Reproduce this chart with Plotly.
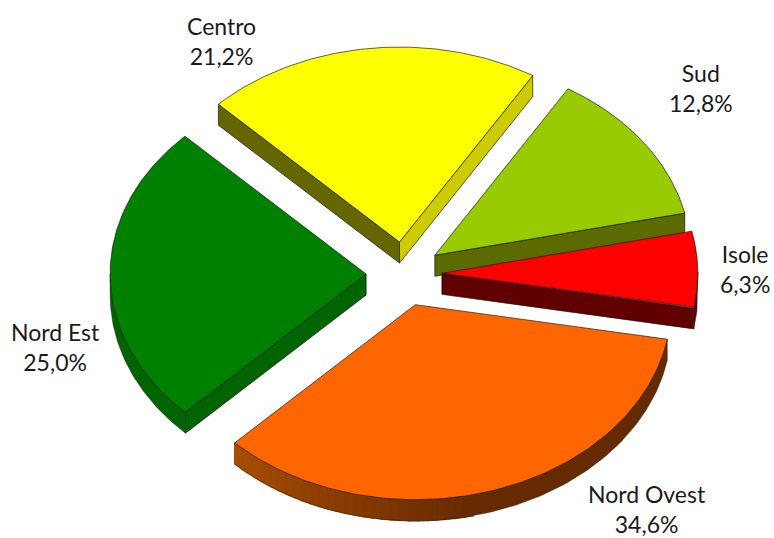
import math
import plotly.graph_objects as go

# Data
categories = ["Isole", "Sud", "Centro", "Nord Est", "Nord Ovest"]
values = [6.3, 12.8, 21.2, 25.0, 34.6]
value_labels = ["6,3%", "12,8%", "21,2%", "25,0%", "34,6%"]

# Styling
top_colors = ["#FF0000", "#99CC00", "#FFFF00", "#008000", "#FF6600"]
wall_colors = {
    "Isole": ("#600000", "#600000"),
    "Sud": ("#5C6B00", "#5C6B00"),
    "Centro": ("#666600", "#CCCC00"),
    "Nord Est": ("#006400", "#006400"),
    "Nord Ovest": ("#662A00", "#662A00"),
}
label_pos = {
    "Isole": (745, 269),
    "Sud": (701, 88),
    "Centro": (221, 41),
    "Nord Est": (55, 347),
    "Nord Ovest": (647, 509),
}
CX, CY, RX, RY, DEPTH, PULL_X, PULL_Y = 404, 274, 256, 195, 21, 0.148, 0.165
START = 349.8
LINE = "rgba(20,20,20,0.85)"

fig = go.Figure()


def poly(xs, ys, fill, line=LINE, width=0.8):
    fig.add_trace(go.Scatter(
        x=xs + xs[:1], y=ys + ys[:1], mode="lines", fill="toself", fillcolor=fill,
        line=dict(color=line, width=width), hoverinfo="skip", showlegend=False,
    ))


def mix(c1, c2, t):
    a = [int(c1[i:i + 2], 16) for i in (1, 3, 5)]
    b = [int(c2[i:i + 2], 16) for i in (1, 3, 5)]
    return "#%02X%02X%02X" % tuple(round(p + (q - p) * t) for p, q in zip(a, b))


total = sum(values)
geom = {}
ang = START
for name, v in zip(categories, values):
    sweep = v / total * 360
    mid = math.radians(ang + sweep / 2)
    ox = CX + PULL_X * RX * math.cos(mid)
    oy = CY - PULL_Y * RY * math.sin(mid)
    geom[name] = (ang, ang + sweep, ox, oy)
    ang += sweep


def pt(ox, oy, deg):
    r = math.radians(deg)
    return ox + RX * math.cos(r), oy - RY * math.sin(r)


def draw(name):
    a0, a1, ox, oy = geom[name]
    idx = categories.index(name)
    dark, light = wall_colors[name]
    p0 = pt(ox, oy, a0)
    p1 = pt(ox, oy, a1)

    # radial walls: end edge (a1) and start edge (a0)
    if name in ("Centro", "Nord Est"):
        poly([ox, p1[0], p1[0], ox], [oy, p1[1], p1[1] + DEPTH, oy + DEPTH], dark)
    if name in ("Centro", "Sud", "Isole"):
        col = light if name == "Centro" else dark
        poly([ox, p0[0], p0[0], ox], [oy, p0[1], p0[1] + DEPTH, oy + DEPTH], col)

    # outer curved wall, front-facing part only
    n = 120
    degs = [a0 + (a1 - a0) * i / n for i in range(n + 1)]
    vis = [d for d in degs if math.sin(math.radians(d)) <= 0.01]
    if vis:
        top = [pt(ox, oy, d) for d in vis]
        poly([p[0] for p in top] + [p[0] for p in reversed(top)],
             [p[1] for p in top] + [p[1] + DEPTH for p in reversed(top)],
             dark, line="rgba(40,40,40,0.6)", width=0.7)
    if name == "Nord Ovest":
        # shaded left end of the wall
        steps = 28
        shade_span = 58
        for i in range(steps):
            d0 = a0 + shade_span * i / steps
            d1 = a0 + shade_span * (i + 1) / steps
            q0, q1 = pt(ox, oy, d0), pt(ox, oy, d1)
            col = mix("#A84E00", "#662A00", (i + 0.5) / steps)
            poly([q0[0], q1[0], q1[0], q0[0]],
                 [q0[1], q1[1], q1[1] + DEPTH, q0[1] + DEPTH], col, line=col, width=1.5)
        low = [pt(ox, oy, a0 + shade_span * i / steps) for i in range(steps + 1)]
        fig.add_trace(go.Scatter(
            x=[p[0] for p in low], y=[p[1] + DEPTH for p in low], mode="lines",
            line=dict(color="rgba(40,40,40,0.6)", width=0.7),
            hoverinfo="skip", showlegend=False,
        ))

    # top face
    arc = [pt(ox, oy, d) for d in degs]
    poly([ox] + [p[0] for p in arc], [oy] + [p[1] for p in arc], top_colors[idx])


for name in ["Centro", "Sud", "Nord Est", "Isole", "Nord Ovest"]:
    draw(name)

for name, lab in zip(categories, value_labels):
    x, y = label_pos[name]
    fig.add_annotation(
        x=x, y=y, text=f"{name}<br>{lab}", showarrow=False, xanchor="center", yanchor="middle",
        font=dict(family="Lato, Carlito, Calibri, sans-serif", size=23, color="#1a1a1a"),
        align="center",
    )

fig.update_layout(
    width=774, height=538, margin=dict(l=0, r=0, t=0, b=0),
    paper_bgcolor="white", plot_bgcolor="white", showlegend=False,
    xaxis=dict(range=[0, 774], visible=False, fixedrange=True),
    yaxis=dict(range=[538, 0], visible=False, fixedrange=True),
)
fig.write_html("out.html", config=dict(displayModeBar=False),
               post_script="document.body.style.margin='0';document.body.style.overflow='hidden';")
